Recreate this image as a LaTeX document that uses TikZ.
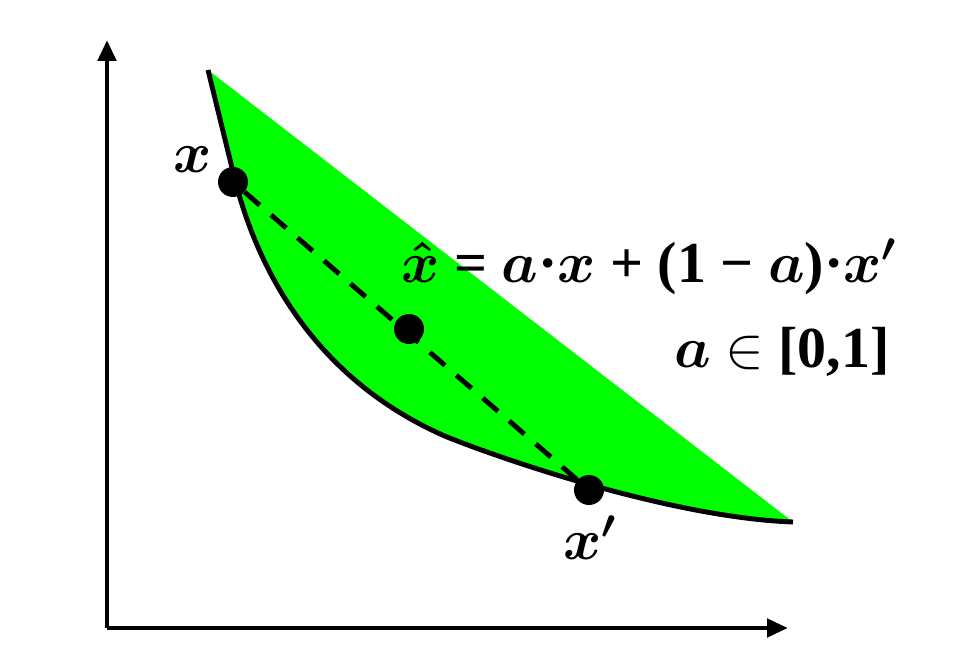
\RequirePackage{fix-cm}
\documentclass[tikz,border=0pt]{standalone}
\usepackage{amsmath}
\usepackage{fontspec}
\setmainfont{Liberation Serif}
\usetikzlibrary{arrows.meta}
\definecolor{setgreen}{RGB}{0,255,0}
\newcommand{\bmath}[1]{$\boldsymbol{#1}$}
\begin{document}
\begin{tikzpicture}[x=0.02cm, y=-0.02cm,
  every node/.style={font=\fontsize{33}{38}\selectfont\bfseries},
  dot/.style={circle,fill=black,inner sep=0pt,minimum size=0.6cm},
  axis/.style={line width=2.8pt,-{Triangle[length=0.42cm,width=0.36cm]}}]
  \useasboundingbox (0,0) rectangle (960,668);

  % convex set: straight upper edge, curved lower edge
  \fill[setgreen] (208,70) -- (235,180) .. controls (258,270) and (315,380) .. (447,437)
    .. controls (520,466) and (680,518) .. (793,522) -- cycle;
  \draw[line width=2.8pt,line join=round] (208,70) -- (235,180) .. controls (258,270) and (315,380) .. (447,437)
    .. controls (520,466) and (680,518) .. (793,522);

  \coordinate (o) at (107,628);
  \coordinate (ytip) at (107,40);
  \coordinate (xtip) at (788,628);
  \draw[axis] (o) -- (ytip);
  \draw[axis] (o) -- (xtip);

  \node[dot] (p1) at (233,182) {};
  \node[dot] (ph) at (409,329) {};
  \node[dot] (p2) at (589,490) {};
  \draw[line width=2.8pt,dash pattern=on 0.4cm off 0.3cm] (p1) -- (p2);

  \node[anchor=base] (lx) at (193,173) {\bmath{x}};
  \node[anchor=base] (lxp) at (590,560) {\bmath{x'}};
  \node[anchor=base east,inner sep=0pt] (conv) at (897,283) {\bmath{\hat{x}} = \bmath{a}·\bmath{x} + (1 − \bmath{a})·\bmath{x'}};
  \node[anchor=base east,inner sep=0pt] (range) at (890,368) {\bmath{a} $\in$ [0,1]};
\end{tikzpicture}
\end{document}
